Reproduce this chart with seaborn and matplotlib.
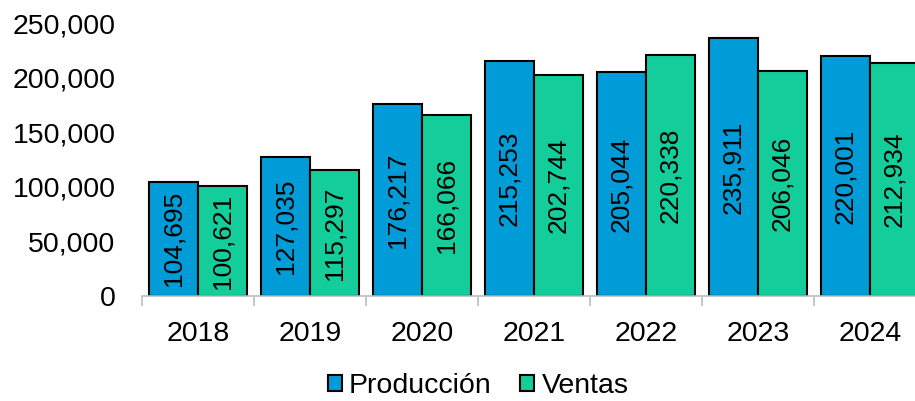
import matplotlib
matplotlib.use("Agg")
import matplotlib.pyplot as plt
import matplotlib.ticker as mticker
import seaborn as sns
import pandas as pd

# Data
years = ["2018", "2019", "2020", "2021", "2022", "2023", "2024"]
produccion = [104695, 127035, 176217, 215253, 205044, 235911, 220001]
ventas = [100621, 115297, 166066, 202744, 220338, 206046, 212934]
series_names = ["Producción", "Ventas"]
colors = ["#009CD8", "#13CE9A"]

df = pd.DataFrame({
    "year": years * 2,
    "value": produccion + ventas,
    "serie": [series_names[0]] * len(years) + [series_names[1]] * len(years),
})

sns.set_theme(style="white")
plt.rcParams["font.family"] = ["Liberation Sans", "DejaVu Sans"]
plt.rcParams["text.color"] = "black"

fig = plt.figure(figsize=(9.15, 4.01), dpi=100)
ax = fig.add_axes([142 / 915, 1 - 296 / 401, 784 / 915, 273 / 401])

sns.barplot(data=df, x="year", y="value", hue="serie", palette=colors,
            width=0.875, gap=0, edgecolor="black", linewidth=1.5,
            saturation=1, ax=ax, legend=True)

for cont in ax.containers:
    ax.bar_label(cont, labels=[f"{v:,.0f}" for v in cont.datavalues],
                 label_type="center", rotation=90, fontsize=19, color="black")

ax.set_ylim(0, 250000)
ax.set_xlim(-0.5, len(years) - 0.5)
ax.yaxis.set_major_locator(mticker.MultipleLocator(50000))
ax.yaxis.set_major_formatter(mticker.FuncFormatter(lambda v, p: f"{v:,.0f}"))
ax.tick_params(axis="y", length=0, pad=19, labelsize=20.5, labelcolor="black")
ax.tick_params(axis="x", which="major", length=0, pad=18, labelsize=20.5, labelcolor="black")
ax.set_xticks([i - 0.5 for i in range(len(years) + 1)], minor=True)
ax.tick_params(axis="x", which="minor", length=7, width=1.2, color="#BFBFBF", bottom=True)
ax.set_xlabel("")
ax.set_ylabel("")

for s in ["top", "right", "left"]:
    ax.spines[s].set_visible(False)
ax.spines["bottom"].set_color("#BFBFBF")
ax.spines["bottom"].set_linewidth(1.2)

handles, labels = ax.get_legend_handles_labels()
ax.get_legend().remove()
leg = fig.legend(handles, labels, loc="center", bbox_to_anchor=(478 / 915, 1 - 386 / 401),
                 ncol=2, frameon=False, fontsize=20.5, handlelength=0.5, handleheight=0.5,
                 handletextpad=0.25, columnspacing=1.0)
for t in leg.get_texts():
    t.set_color("black")

fig.savefig("out.png", dpi=100)
